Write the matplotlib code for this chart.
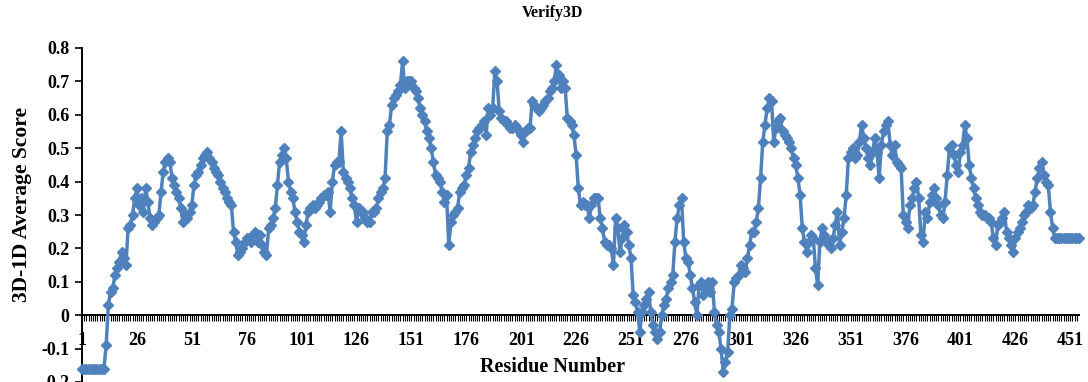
import matplotlib.pyplot as plt
import numpy as np

# Verify3D 3D-1D averaged score per residue
scores = [
    -0.16, -0.16, -0.16, -0.16, -0.16, -0.16, -0.16, -0.16, -0.16, -0.16,
    -0.16, -0.09, 0.03, 0.07, 0.08, 0.12, 0.14, 0.16, 0.19, 0.17,
    0.15, 0.26, 0.27, 0.30, 0.35, 0.38, 0.33, 0.35, 0.31, 0.38,
    0.34, 0.29, 0.27, 0.28, 0.29, 0.30, 0.37, 0.43, 0.46, 0.47,
    0.46, 0.41, 0.39, 0.37, 0.35, 0.32, 0.28, 0.30, 0.29, 0.31,
    0.33, 0.39, 0.42, 0.43, 0.45, 0.47, 0.48, 0.49, 0.47, 0.46,
    0.44, 0.43, 0.42, 0.40, 0.38, 0.37, 0.35, 0.34, 0.33, 0.25,
    0.22, 0.18, 0.19, 0.20, 0.22, 0.23, 0.23, 0.22, 0.24, 0.25,
    0.22, 0.24, 0.21, 0.19, 0.18, 0.26, 0.27, 0.29, 0.32, 0.39,
    0.46, 0.48, 0.50, 0.47, 0.40, 0.37, 0.35, 0.31, 0.28, 0.25,
    0.24, 0.22, 0.27, 0.31, 0.32, 0.33, 0.32, 0.33, 0.34, 0.35,
    0.36, 0.36, 0.37, 0.31, 0.40, 0.45, 0.46, 0.46, 0.55, 0.43,
    0.41, 0.40, 0.38, 0.35, 0.33, 0.28, 0.32, 0.31, 0.31, 0.29,
    0.28, 0.28, 0.31, 0.31, 0.32, 0.35, 0.37, 0.38, 0.41, 0.55,
    0.57, 0.63, 0.65, 0.66, 0.67, 0.69, 0.76, 0.68, 0.70, 0.70,
    0.70, 0.68, 0.67, 0.65, 0.62, 0.60, 0.58, 0.55, 0.53, 0.50,
    0.46, 0.42, 0.41, 0.40, 0.37, 0.34, 0.36, 0.21, 0.28, 0.30,
    0.31, 0.32, 0.37, 0.38, 0.39, 0.42, 0.44, 0.49, 0.51, 0.53,
    0.55, 0.56, 0.57, 0.58, 0.54, 0.62, 0.60, 0.62, 0.73, 0.70,
    0.61, 0.59, 0.58, 0.58, 0.57, 0.56, 0.56, 0.57, 0.56, 0.55,
    0.54, 0.52, 0.55, 0.56, 0.56, 0.64, 0.63, 0.62, 0.61, 0.62,
    0.63, 0.64, 0.65, 0.67, 0.68, 0.70, 0.75, 0.72, 0.68, 0.70,
    0.68, 0.59, 0.58, 0.57, 0.54, 0.48, 0.38, 0.33, 0.34, 0.33,
    0.33, 0.29, 0.33, 0.35, 0.35, 0.35, 0.29, 0.26, 0.22, 0.21,
    0.21, 0.20, 0.15, 0.29, 0.26, 0.19, 0.23, 0.27, 0.25, 0.21,
    0.17, 0.06, 0.04, 0.01, -0.05, 0.01, 0.03, 0.05, 0.07, 0.01,
    -0.03, -0.05, -0.07, -0.05, 0.00, 0.03, 0.05, 0.08, 0.10, 0.12,
    0.22, 0.29, 0.33, 0.35, 0.22, 0.17, 0.16, 0.12, 0.08, 0.04,
    0.00, 0.09, 0.10, 0.06, 0.08, 0.10, 0.07, 0.10, 0.01, -0.03,
    -0.05, -0.10, -0.17, -0.14, -0.11, 0.00, 0.02, 0.10, 0.11, 0.12,
    0.15, 0.14, 0.13, 0.17, 0.21, 0.25, 0.25, 0.28, 0.32, 0.41,
    0.52, 0.57, 0.62, 0.65, 0.64, 0.52, 0.56, 0.58, 0.59, 0.55,
    0.54, 0.53, 0.52, 0.50, 0.47, 0.45, 0.41, 0.36, 0.26, 0.22,
    0.19, 0.22, 0.24, 0.23, 0.14, 0.09, 0.22, 0.26, 0.24, 0.22,
    0.21, 0.20, 0.23, 0.27, 0.31, 0.21, 0.25, 0.29, 0.36, 0.47,
    0.49, 0.50, 0.47, 0.48, 0.52, 0.57, 0.53, 0.50, 0.47, 0.45,
    0.49, 0.53, 0.49, 0.41, 0.51, 0.55, 0.57, 0.58, 0.51, 0.48,
    0.51, 0.46, 0.45, 0.44, 0.30, 0.28, 0.26, 0.33, 0.35, 0.38,
    0.40, 0.35, 0.24, 0.22, 0.31, 0.29, 0.34, 0.36, 0.38, 0.35,
    0.33, 0.30, 0.29, 0.34, 0.42, 0.50, 0.51, 0.48, 0.45, 0.43,
    0.49, 0.51, 0.57, 0.53, 0.45, 0.41, 0.38, 0.35, 0.33, 0.31,
    0.30, 0.30, 0.29, 0.29, 0.28, 0.23, 0.21, 0.27, 0.28, 0.29,
    0.31, 0.25, 0.23, 0.21, 0.19, 0.23, 0.25, 0.26, 0.28, 0.30,
    0.31, 0.33, 0.32, 0.33, 0.37, 0.41, 0.44, 0.46, 0.42, 0.40,
    0.39, 0.31, 0.26, 0.23, 0.23, 0.23, 0.23, 0.23, 0.23, 0.23,
    0.23, 0.23, 0.23, 0.23, 0.23,
]
residues = np.arange(1, len(scores) + 1)

x_ticks = list(range(1, 452, 25))
y_ticks = [-0.2, -0.1, 0, 0.1, 0.2, 0.3, 0.4, 0.5, 0.6, 0.7, 0.8]
y_labels = ["-0.2", "-0.1", "0", "0.1", "0.2", "0.3", "0.4", "0.5", "0.6", "0.7", "0.8"]

blue = "#4f81bd"
serif = "Liberation Serif"

fig = plt.figure(figsize=(10.88, 3.82), dpi=100)
# the reference is cropped: the -0.2 row sits right on the bottom edge
ax = fig.add_axes([82 / 1088, 0.0, 997 / 1088, 334 / 382])

ax.plot(residues, scores, color=blue, lw=2.5, marker="D", ms=5.5,
        mec=blue, mfc=blue, clip_on=False, zorder=3)

ax.set_xlim(1, 455)
ax.set_ylim(-0.2, 0.8)

ax.spines["top"].set_visible(False)
ax.spines["right"].set_visible(False)
ax.spines["bottom"].set_position(("data", 0))
ax.spines["left"].set_linewidth(1.4)
ax.spines["bottom"].set_linewidth(1.4)

ax.set_yticks(y_ticks)
ax.set_yticklabels(y_labels, fontfamily=serif, fontweight="bold", fontsize=13)
ax.set_xticks(x_ticks)
ax.set_xticklabels([str(t) for t in x_ticks], fontfamily=serif,
                   fontweight="bold", fontsize=13)
ax.set_xticks(residues[:-1], minor=True)
ax.tick_params(axis="y", direction="out", length=5, width=1.2, pad=4)
ax.tick_params(axis="x", which="both", direction="out", length=4, width=0.8, pad=8)

fig.text(22 / 1088, 1 - 205 / 382, "3D-1D Average Score", rotation=90,
         ha="center", va="center", fontfamily=serif, fontweight="bold",
         fontsize=15.5)
fig.text(552 / 1088, 1 - 367 / 382, "Residue Number", ha="center", va="center",
         fontfamily=serif, fontweight="bold", fontsize=14.5)
fig.text(552 / 1088, 1 - 13 / 382, "Verify3D", ha="center", va="center",
         fontfamily=serif, fontweight="bold", fontsize=11.5)

fig.savefig("out.png", dpi=100)
